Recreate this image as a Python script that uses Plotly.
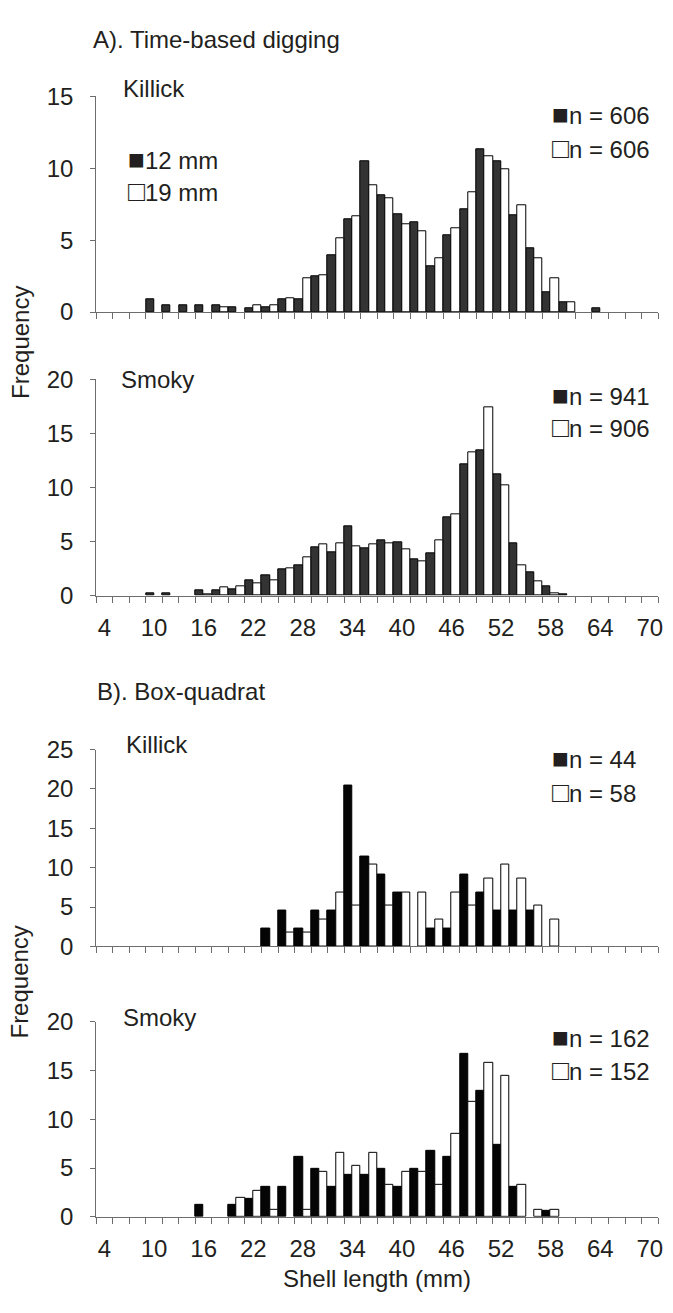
import plotly.graph_objects as go

# ---------------- data ----------------
categories = [4, 6, 8, 10, 12, 14, 16, 18, 20, 22, 24, 26, 28, 30, 32, 34, 36,
              38, 40, 42, 44, 46, 48, 50, 52, 54, 56, 58, 60, 62, 64, 66, 68, 70]
tick_labels = [4, 10, 16, 22, 28, 34, 40, 46, 52, 58, 64, 70]

# A) Time-based digging, Killick (12 mm / 19 mm sieve), % frequency
killick_time_12 = [0, 0, 0, 0.86, 0.45, 0.45, 0.45, 0.45, 0.30, 0.23, 0.30, 0.86, 0.91, 2.52, 3.98, 6.48, 10.45,
                   8.11, 6.77, 6.27, 3.18, 5.34, 7.16, 11.32, 10.45, 6.70, 4.43, 1.36, 0.68, 0, 0.23, 0, 0, 0]
killick_time_19 = [0, 0, 0, 0, 0, 0, 0, 0.30, 0, 0.45, 0.45, 0.98, 2.32, 2.59, 5.11, 6.68, 8.80,
                   7.90, 6.09, 5.59, 3.77, 5.80, 8.30, 10.80, 9.95, 7.43, 3.77, 2.32, 0.68, 0, 0, 0, 0, 0]
# A) Time-based digging, Smoky
smoky_time_12 = [0, 0, 0, 0.24, 0.24, 0, 0.51, 0.51, 0.63, 1.42, 1.90, 2.41, 2.80, 4.46, 3.98, 6.42, 4.37,
                 5.12, 4.97, 3.40, 3.95, 7.29, 12.14, 13.40, 11.23, 4.85, 2.20, 0.87, 0.12, 0, 0, 0, 0, 0]
smoky_time_19 = [0, 0, 0, 0, 0, 0, 0.12, 0.75, 0.87, 1.11, 1.42, 2.53, 3.55, 4.73, 4.85, 4.61, 4.73,
                 4.85, 4.31, 3.16, 5.09, 7.53, 13.28, 17.38, 10.20, 2.80, 1.30, 0.27, 0, 0, 0, 0, 0, 0]
# B) Box-quadrat, Killick
killick_box_12 = [0, 0, 0, 0, 0, 0, 0, 0, 0, 0, 2.27, 4.55, 2.27, 4.55, 4.55, 20.45, 11.36,
                  9.09, 6.82, 0, 2.27, 2.27, 9.09, 6.82, 4.55, 4.55, 4.55, 0, 0, 0, 0, 0, 0, 0]
killick_box_19 = [0, 0, 0, 0, 0, 0, 0, 0, 0, 0, 0, 1.72, 1.72, 3.45, 6.90, 5.17, 10.34,
                  5.17, 6.90, 6.90, 3.45, 6.90, 5.17, 8.62, 10.34, 8.62, 5.17, 3.45, 0, 0, 0, 0, 0, 0]
# B) Box-quadrat, Smoky
smoky_box_12 = [0, 0, 0, 0, 0, 0, 1.23, 0, 1.23, 1.85, 3.09, 3.09, 6.17, 4.94, 3.09, 4.32, 4.32,
                4.94, 3.09, 4.94, 6.79, 6.17, 16.67, 12.96, 7.41, 3.09, 0, 0.62, 0, 0, 0, 0, 0, 0]
smoky_box_19 = [0, 0, 0, 0, 0, 0, 0, 0, 1.97, 2.63, 0.66, 0, 0.66, 4.61, 6.58, 5.26, 6.58,
                3.29, 4.61, 4.61, 3.29, 8.55, 11.84, 15.79, 14.47, 3.29, 0.66, 0.66, 0, 0, 0, 0, 0, 0]

panel_names = ["Killick", "Smoky", "Killick", "Smoky"]
legend_texts = [("n = 606", "n = 606"), ("n = 941", "n = 906"), ("n = 44", "n = 58"), ("n = 162", "n = 152")]
y_max = [15, 20, 25, 20]

# ---------------- layout helpers ----------------
W, H = 673, 1313
FONT = "Liberation Sans, Arial, sans-serif"
TXT = "#231f20"
AX = "#6d6d6d"
FS = 24


def X(px):
    return px / W


def Y(px):
    return 1 - px / H


def nz(vals):
    # empty classes are not drawn (avoids zero-height outlines on the axis)
    return [v if v > 0 else None for v in vals]


# panel pixel extents (top of axis, zero line)
panel_px = [(84, 304.3), (373, 594), (751, 952), (1029, 1228)]
x_left, x_right = 97, 663

series = [(killick_time_12, killick_time_19), (smoky_time_12, smoky_time_19),
          (killick_box_12, killick_box_19), (smoky_box_12, smoky_box_19)]
dark_colors = ["#333333", "#333333", "#050505", "#050505"]

fig = go.Figure()
layout = dict(
    width=W, height=H, margin=dict(l=0, r=0, t=0, b=0),
    paper_bgcolor="white", plot_bgcolor="white",
    barmode="group", bargap=0, bargroupgap=0,
    showlegend=False,
    font=dict(family=FONT, size=FS, color=TXT),
)

boundaries = [c - 1 for c in categories] + [categories[-1] + 1]

for i in range(4):
    sfx = "" if i == 0 else str(i + 1)
    d12, d19 = series[i]
    fig.add_trace(go.Bar(x=categories, y=nz(d12), xaxis="x" + sfx, yaxis="y" + sfx,
                         marker=dict(color=dark_colors[i], line=dict(color="black", width=1))))
    fig.add_trace(go.Bar(x=categories, y=nz(d19), xaxis="x" + sfx, yaxis="y" + sfx,
                         marker=dict(color="white", line=dict(color="black", width=1))))
    top, zero = panel_px[i]
    layout["xaxis" + sfx] = dict(
        domain=[X(x_left), X(x_right)], anchor="y" + sfx, range=[3, 71],
        showline=True, linecolor=AX, linewidth=1, showgrid=False, zeroline=False,
        ticks="outside", ticklen=0, tickvals=tick_labels, ticktext=[str(v) for v in tick_labels],
        showticklabels=(i in (1, 3)), ticklabelstandoff=10,
        tickfont=dict(family=FONT, size=FS, color=TXT),
        minor=dict(ticks="outside", ticklen=6, tickcolor=AX, tickwidth=1,
                   tickmode="array", tickvals=boundaries),
        fixedrange=True,
    )
    layout["yaxis" + sfx] = dict(
        domain=[Y(zero), Y(top)], anchor="x" + sfx, range=[0, y_max[i]],
        tickvals=list(range(0, y_max[i] + 1, 5)),
        showline=True, linecolor=AX, linewidth=1, showgrid=False, zeroline=False,
        ticks="outside", ticklen=5, tickcolor=AX, ticklabelstandoff=12,
        tickfont=dict(family=FONT, size=FS, color=TXT), fixedrange=True,
    )

annotations = []


def add_text(text, xpx, ypx, xanchor="left", angle=0, size=FS):
    annotations.append(dict(text=text, x=X(xpx), y=Y(ypx), xref="paper", yref="paper",
                            xanchor=xanchor, yanchor="middle", showarrow=False, textangle=angle,
                            font=dict(family=FONT, size=size, color=TXT)))


SQ_FULL = "<span style='font-size:28px'>■</span>"
SQ_EMPTY = "<span style='font-size:28px'>□</span>"

add_text("A). Time-based digging", 92, 26)
add_text("B). Box-quadrat", 96, 692)
name_pos = [(122, 76), (120, 373), (125, 746), (122, 1025)]
for i in range(4):
    add_text(panel_names[i], *name_pos[i])
leg_pos = [(103, 137), (389, 422), (760, 795), (1045, 1079)]
for i in range(4):
    a, b = leg_pos[i]
    add_text(SQ_FULL + legend_texts[i][0], 554, a)
    add_text(SQ_EMPTY + legend_texts[i][1], 554, b)
add_text(SQ_FULL + "12 mm", 127, 149)
add_text(SQ_EMPTY + "19 mm", 127, 181)
add_text("Frequency", 20, 335, xanchor="center", angle=-90)
add_text("Frequency", 20, 988, xanchor="center", angle=-90)
add_text("Shell length (mm)", 380, 1291, xanchor="center")

layout["annotations"] = annotations
fig.update_layout(**layout)
fig.write_html("out.html")
